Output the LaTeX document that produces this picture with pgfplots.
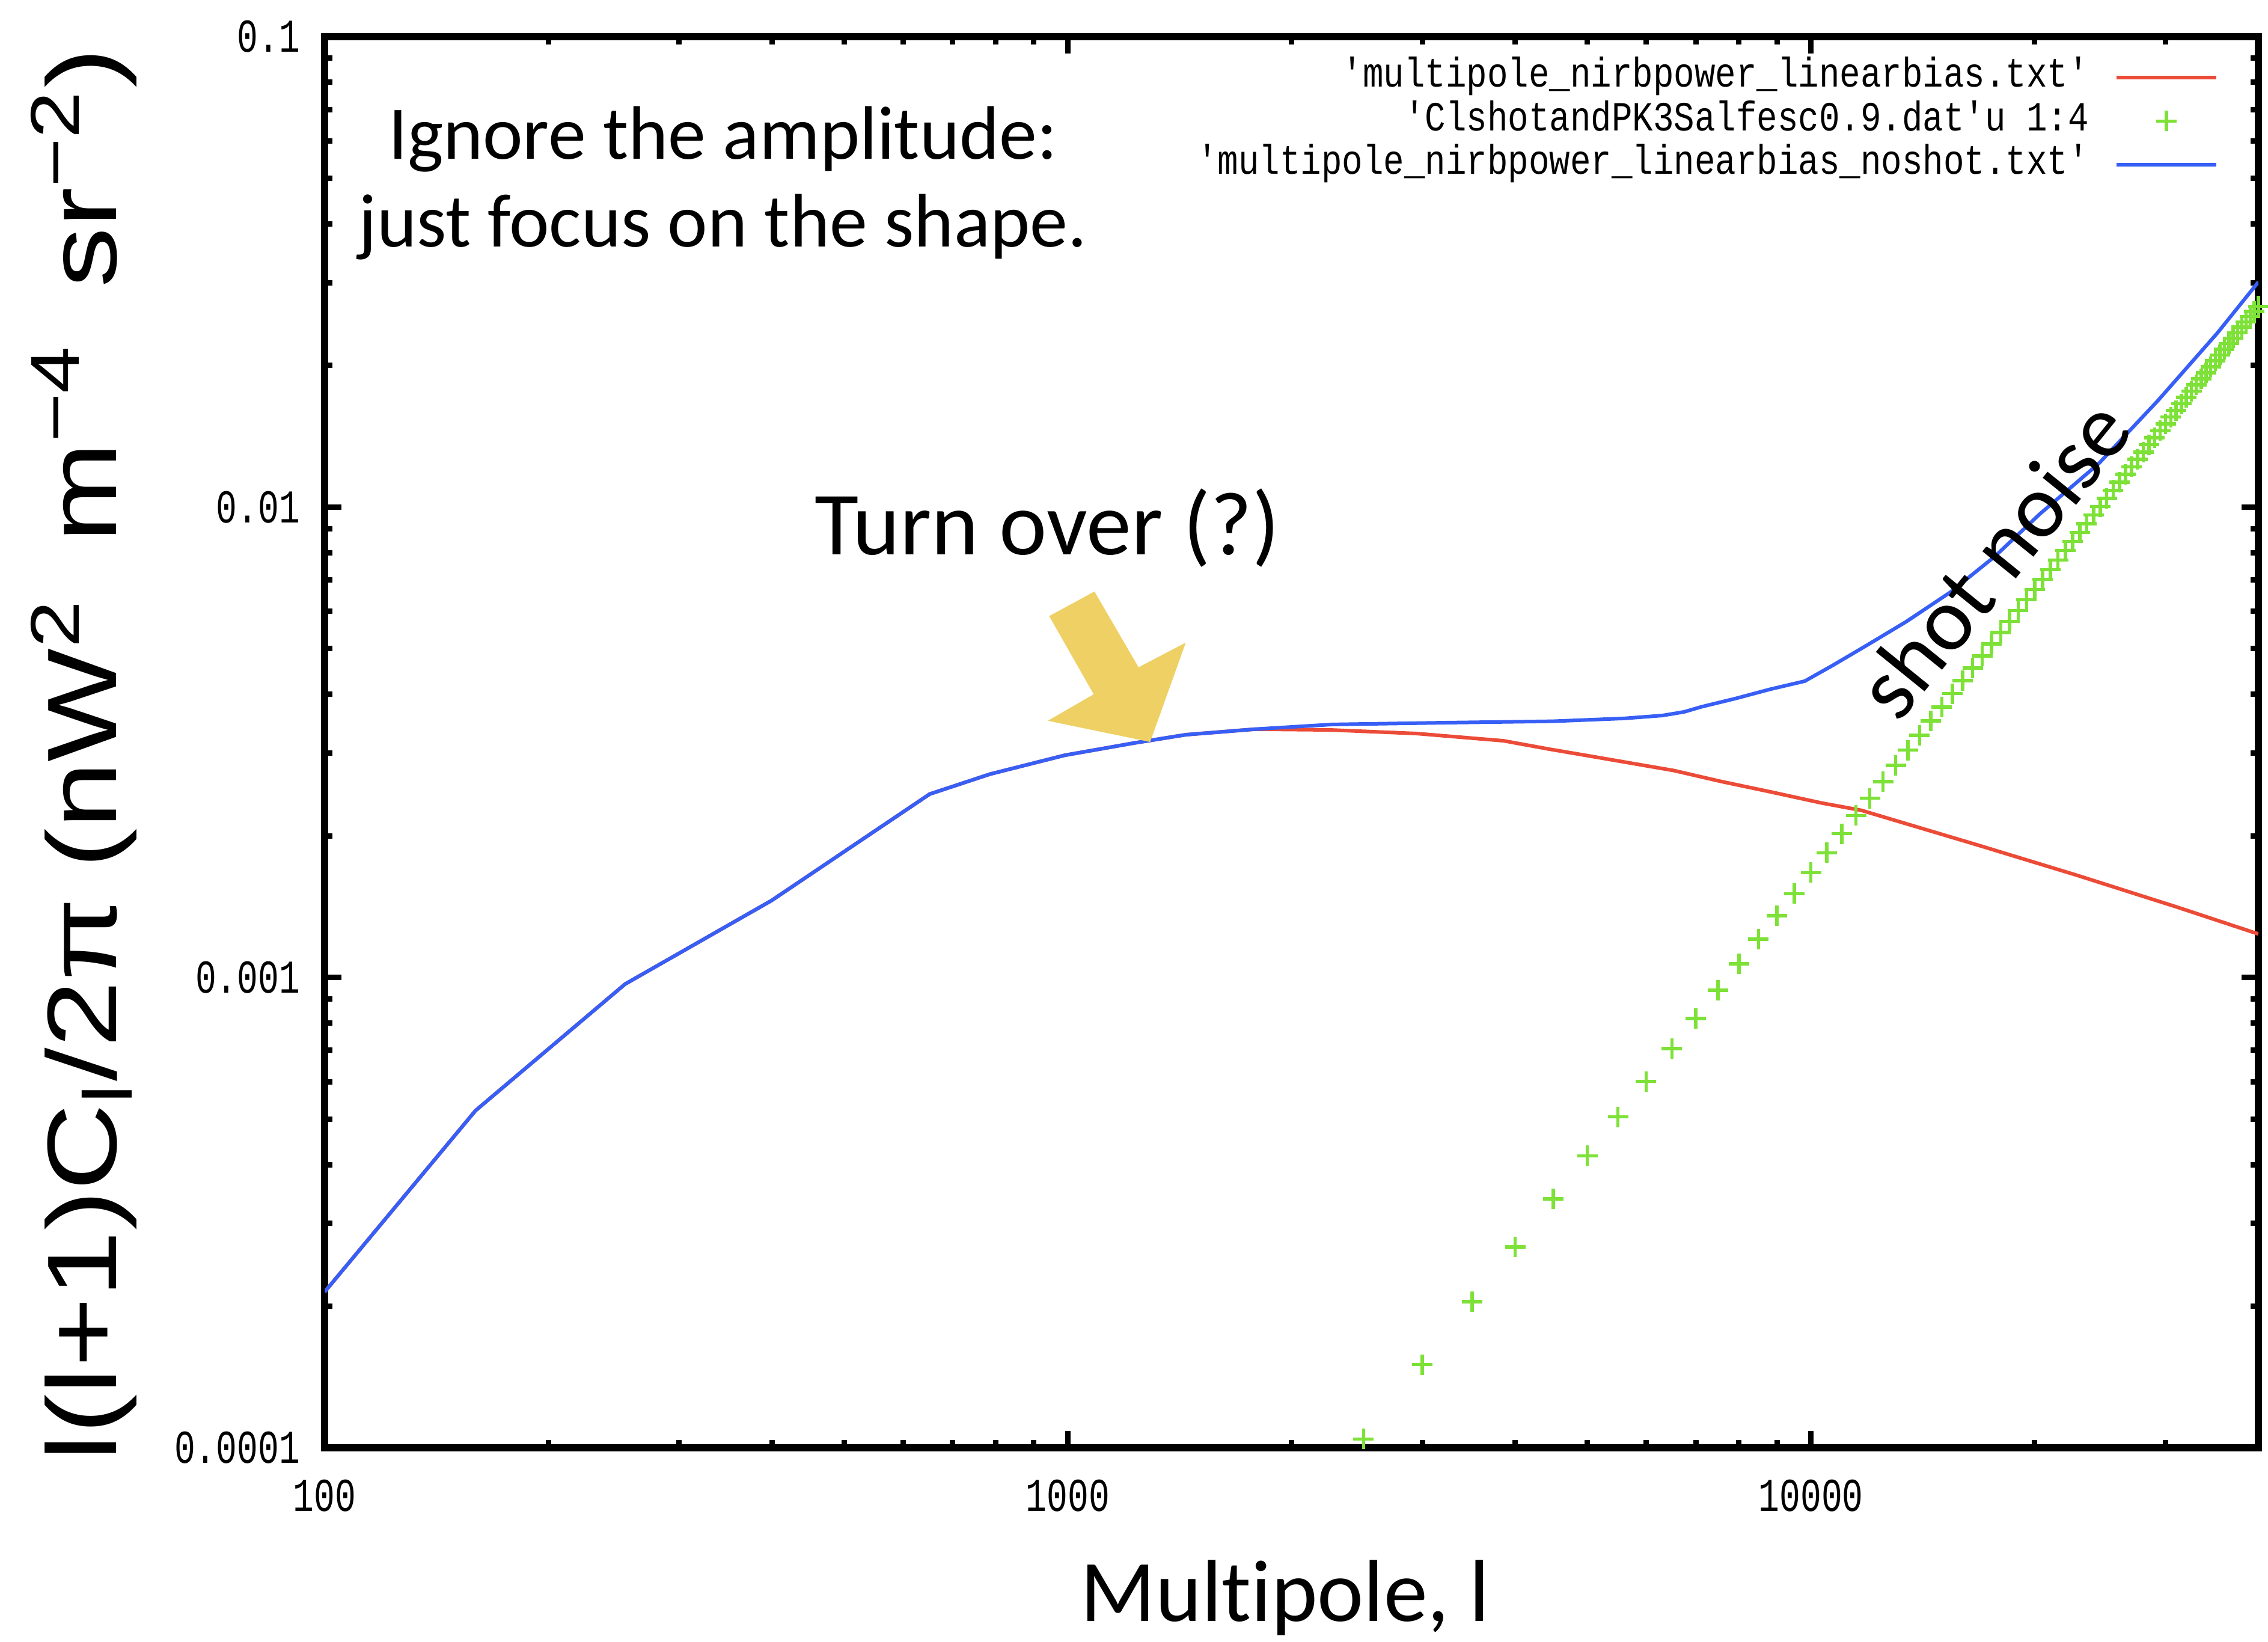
\documentclass[border=0pt]{standalone}
\usepackage{graphicx}
\usepackage{fontspec}
\setmainfont{Carlito}[Ligatures={NoCommon}]
\newfontfamily\gpfont{Liberation Mono}
\newfontfamily\labfont{Liberation Sans}
\usepackage{pgfplots}
\pgfplotsset{compat=1.18}

\definecolor{gpred}{RGB}{235,75,55}
\definecolor{gpgreen}{RGB}{125,225,55}
\definecolor{gpblue}{RGB}{55,95,245}
\definecolor{arrowyellow}{RGB}{238,208,100}

\newcommand{\tickfont}{\gpfont\fontsize{5.8}{6}\selectfont}
\newcommand{\lgd}[1]{\scalebox{1}[1.2]{#1}}
\newcommand{\sq}{\textquotesingle}

\begin{document}
\begin{tikzpicture}
\begin{axis}[
  xmode=log, ymode=log,
  scale only axis, width=321.7pt, height=234.7pt,
  xmin=100, xmax=40000, ymin=1e-4, ymax=0.1,
  xtick={100,1000,10000}, xticklabels={100,1000,10000},
  ytick={1e-4,1e-3,1e-2,1e-1}, yticklabels={0.0001,0.001,0.01,0.1},
  minor xtick={200,300,400,500,600,700,800,900,2000,3000,4000,5000,6000,7000,8000,9000,20000,30000},
  minor ytick={2e-4,3e-4,4e-4,5e-4,6e-4,7e-4,8e-4,9e-4,2e-3,3e-3,4e-3,5e-3,6e-3,7e-3,8e-3,9e-3,2e-2,3e-2,4e-2,5e-2,6e-2,7e-2,8e-2,9e-2},
  tick align=inside,
  major tick length=2.8pt, minor tick length=1.3pt,
  tick style={black, line width=0.9pt},
  axis line style={black, line width=1.2pt},
  every tick label/.append style={font=\tickfont, inner sep=0pt},
  xticklabel style={yscale=1.35},
  yticklabel style={yscale=1.35},
  xticklabel shift=5pt, yticklabel shift=3.9pt,
  xlabel={Multipole, l},
  xlabel style={at={(axis description cs:0.4967,-0.1227)}, anchor=base, font=\fontsize{14.6}{17}\selectfont},
  ylabel={\scalebox{1.22}[1]{\labfont\fontsize{16.4}{18}\selectfont l(l+1)C\textsubscript{l}/2π\hspace{4pt}(nW\textsuperscript{2}\hspace{7.5pt}m\textsuperscript{−4}\hspace{7.5pt}sr\textsuperscript{−2})}},
  ylabel style={at={(axis description cs:-0.1076,0.4913)}, anchor=base},
  legend style={draw=none, fill=none, inner sep=0pt, outer sep=0pt,
    at={(axis description cs:1,1)}, anchor=north east, xshift=-6.7pt, yshift=-3.8pt,
    row sep=1.25pt, column sep=4.3pt,
    font=\gpfont\fontsize{5.75}{6}\selectfont,
    nodes={inner sep=0pt, text height=4.6pt, text depth=1.4pt}},
  legend cell align=right,
  legend plot pos=right,
  legend image code/.code={\draw[mark repeat=2,mark phase=2,#1] plot coordinates {(0pt,0pt) (8.3pt,0pt) (16.6pt,0pt)};},
  clip mode=individual,
]

% red: with shot noise removed at high l
\addplot[color=gpred, line width=0.6pt] table {
l v
100 2.145e-4
159.6 5.21e-4
253.7 9.68e-4
399.4 1.457e-3
652 2.454e-3
786.3 2.706e-3
990.6 2.967e-3
1228.9 3.151e-3
1441.9 3.281e-3
1784.6 3.371e-3
2253.2 3.359e-3
2948.3 3.300e-3
3857.6 3.185e-3
4446.7 3.057e-3
5057.5 2.953e-3
5744.5 2.852e-3
6533.7 2.754e-3
7585.6 2.608e-3
8814.9 2.481e-3
10332 2.349e-3
11688 2.266e-3
16712 1.915e-3
22801 1.649e-3
31131 1.410e-3
40000 1.237e-3
};
\addlegendentry{\lgd{\sq multipole\_nirbpower\_linearbias.txt\sq}}

% green: shot noise term
\addplot[only marks, mark=+, mark size=1.7pt, color=gpgreen, mark options={line width=0.55pt}] table {
l v
2500 1.0438e-4
3000 1.503e-4
3500 2.0458e-4
4000 2.672e-4
4500 3.3818e-4
5000 4.175e-4
5500 5.0518e-4
6000 6.012e-4
6500 7.0558e-4
7000 8.183e-4
7500 9.3938e-4
8000 1.0688e-3
8500 1.2066e-3
9000 1.3527e-3
9500 1.5072e-3
10000 1.67e-3
10500 1.8412e-3
11000 2.0207e-3
11500 2.2086e-3
12000 2.4048e-3
12500 2.6094e-3
13000 2.8223e-3
13500 3.0436e-3
14000 3.2732e-3
14500 3.5112e-3
15000 3.7575e-3
15500 4.0122e-3
16000 4.2752e-3
16500 4.5466e-3
17000 4.8263e-3
17500 5.1144e-3
18000 5.4108e-3
18500 5.7156e-3
19000 6.0287e-3
19500 6.3502e-3
20000 6.68e-3
20500 7.0182e-3
21000 7.3647e-3
21500 7.7196e-3
22000 8.0828e-3
22500 8.4544e-3
23000 8.8343e-3
23500 9.2226e-3
24000 9.6192e-3
24500 1.00242e-2
25000 1.04375e-2
25500 1.08592e-2
26000 1.12892e-2
26500 1.17276e-2
27000 1.21743e-2
27500 1.26294e-2
28000 1.30928e-2
28500 1.35646e-2
29000 1.40447e-2
29500 1.45332e-2
30000 1.503e-2
30500 1.55352e-2
31000 1.60487e-2
31500 1.65706e-2
32000 1.71008e-2
32500 1.76394e-2
33000 1.81863e-2
33500 1.87416e-2
34000 1.93052e-2
34500 1.98772e-2
35000 2.04575e-2
35500 2.10462e-2
36000 2.16432e-2
36500 2.22486e-2
37000 2.28623e-2
37500 2.34844e-2
38000 2.41148e-2
38500 2.47536e-2
39000 2.54007e-2
39500 2.60562e-2
40000 2.672e-2
};
\addlegendentry{\lgd{\sq ClshotandPK3Salfesc0.9.dat\sq u 1:4}}

% blue: total
\addplot[color=gpblue, line width=0.6pt] table {
l v
100 2.145e-4
159.6 5.21e-4
253.7 9.68e-4
399.4 1.457e-3
652 2.454e-3
786.3 2.706e-3
990.6 2.967e-3
1228.9 3.151e-3
1441.9 3.281e-3
1784.6 3.371e-3
2268.4 3.450e-3
3224.4 3.480e-3
4491 3.5044e-3
5617 3.5544e-3
6314 3.6051e-3
6752 3.6696e-3
7124 3.7617e-3
7922.2 3.919e-3
8814.9 4.099e-3
9809.1 4.265e-3
10680 4.600e-3
11926 5.097e-3
13438 5.708e-3
15414 6.597e-3
17686 7.859e-3
20310 9.659e-3
24399 1.2378e-2
29317 1.6856e-2
35222 2.3434e-2
40000 3.01e-2
};
\addlegendentry{\lgd{\sq multipole\_nirbpower\_linearbias\_noshot.txt\sq}}

% annotations
\node[anchor=base, font=\fontsize{12.6}{15}\selectfont] at (rel axis cs:0.206,0.9131) {Ignore the amplitude:};
\node[anchor=base, font=\fontsize{12.6}{15}\selectfont] at (rel axis cs:0.206,0.851) {just focus on the shape.};
\node[anchor=base, font=\fontsize{15}{18}\selectfont] at (rel axis cs:0.3736,0.633) {Turn over (?)};
\node[rotate=51, font=\fontsize{15}{18}\selectfont] at (rel axis cs:0.8628,0.6304) {shot noise};
\fill[arrowyellow] (rel axis cs:0.3747,0.5894) -- (rel axis cs:0.3981,0.6068)
  -- (rel axis cs:0.4209,0.5531) -- (rel axis cs:0.4453,0.5706)
  -- (rel axis cs:0.4269,0.5002) -- (rel axis cs:0.3740,0.5152)
  -- (rel axis cs:0.3977,0.5340) -- cycle;
\end{axis}
\pgfresetboundingbox
\path[use as bounding box] ([shift={(-54pt,-32.2pt)}]current axis.south west) rectangle ([shift={(1.6pt,6.1pt)}]current axis.north east);
\end{tikzpicture}
\end{document}
